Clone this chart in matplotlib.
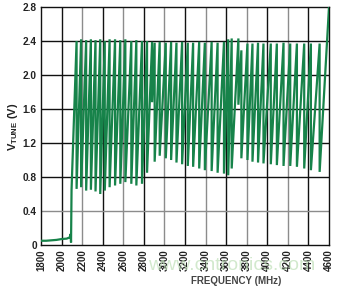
import matplotlib
matplotlib.use("Agg")
import matplotlib.pyplot as plt

# ---- data ----
pre_freq = [1800, 1850, 1900, 1950, 2000, 2050, 2080, 2088, 2092]
pre_vtune = [0.05, 0.05, 0.055, 0.06, 0.07, 0.075, 0.09, 0.13, 0.03]

tooth_start = [2097, 2146, 2190, 2239, 2285, 2330, 2376, 2420, 2467, 2520,
               2571, 2620, 2678, 2727, 2782, 2831, 2880, 2905, 2954, 3013,
               3065, 3117, 3172, 3227, 3279, 3338, 3393, 3459, 3517, 3579,
               3620, 3654, 3719, 3748, 3807, 3856, 3910, 3963, 4034, 4093,
               4158, 4223, 4288, 4359, 4424, 4509]
tooth_low = [0.65, 0.66, 0.68, 0.64, 0.65, 0.63, 0.60, 0.64, 0.68, 0.70,
             0.72, 0.74, 0.72, 0.70, 0.72, 0.85, 1.68, 0.98, 1.05, 1.02,
             1.00, 0.97, 0.95, 0.93, 0.92, 0.90, 0.88, 0.87, 0.85, 0.84,
             0.82, 0.90, 1.65, 1.02, 1.00, 0.98, 0.97, 0.96, 0.95, 0.94,
             0.93, 0.93, 0.92, 0.90, 0.88, 0.86]
tooth_peak_freq = tooth_start[1:] + [4600]
tooth_high = [2.40, 2.42, 2.41, 2.42, 2.41, 2.42, 2.40, 2.42, 2.42, 2.41,
              2.42, 2.40, 2.41, 2.40, 2.40, 2.39, 2.38, 2.39, 2.38, 2.39,
              2.38, 2.39, 2.38, 2.38, 2.39, 2.38, 2.39, 2.38, 2.39, 2.42,
              2.43, 2.43, 2.29, 2.37, 2.37, 2.38, 2.37, 2.37, 2.37, 2.38,
              2.37, 2.37, 2.37, 2.37, 2.37, 2.80]

x_ticks = list(range(1800, 4601, 200))
y_ticks = [0, 0.4, 0.8, 1.2, 1.6, 2.0, 2.4, 2.8]
y_tick_labels = ["0", "0.4", "0.8", "1.2", "1.6", "2.0", "2.4", "2.8"]

# ---- build curve ----
xs = list(pre_freq)
ys = list(pre_vtune)
for s, lo, p, hi in zip(tooth_start, tooth_low, tooth_peak_freq, tooth_high):
    xs += [s, p]
    ys += [lo, hi]

plt.rcParams['font.family'] = ['Liberation Sans', 'DejaVu Sans']
fig = plt.figure(figsize=(3.4, 2.9), dpi=100)
ax = fig.add_axes([41/340, 1-245/290, (329-41)/340, (245-7)/290])

ax.set_xlim(1800, 4600)
ax.set_ylim(0, 2.8)

# grid lines: alternating black / gray
for i, xt in enumerate(x_ticks[1:-1]):
    ax.axvline(xt, color='#111111' if i % 2 == 0 else '#8c8c8c', lw=1.0, zorder=1)
for yt in y_ticks[1:-1]:
    ax.axhline(yt, color='#8c8c8c' if yt == 0.4 else '#111111', lw=1.0, zorder=1)

ax.plot(xs, ys, color='#17834a', lw=1.6, zorder=3, solid_joinstyle='miter')

ax.set_xticks(x_ticks)
ax.set_xticklabels([str(t) for t in x_ticks], rotation=90, fontsize=7,
                   fontweight='bold', color='#222222')
ax.set_yticks(y_ticks)
ax.set_yticklabels(y_tick_labels, fontsize=7.3, fontweight='bold', color='#222222')
ax.tick_params(length=0, pad=3)
for sp in ax.spines.values():
    sp.set_color('#111111')
    sp.set_linewidth(1.0)

fig.text(13/340, 1-127/290, r"V$_{\mathregular{TUNE}}$ (V)", rotation=90,
         fontsize=8, fontweight='bold', color='#222222', ha='center', va='center')
fig.text(236/340, 1-281/290, "FREQUENCY (MHz)", fontsize=7, fontweight='bold',
         color='#444444', ha='center', va='center')
fig.text(232/340, 1-266/290, "www.cntronics.com", fontsize=14, color='#bfe0b8',
         alpha=0.7, ha='center', va='center', zorder=0)

fig.savefig("out.png", dpi=100)
